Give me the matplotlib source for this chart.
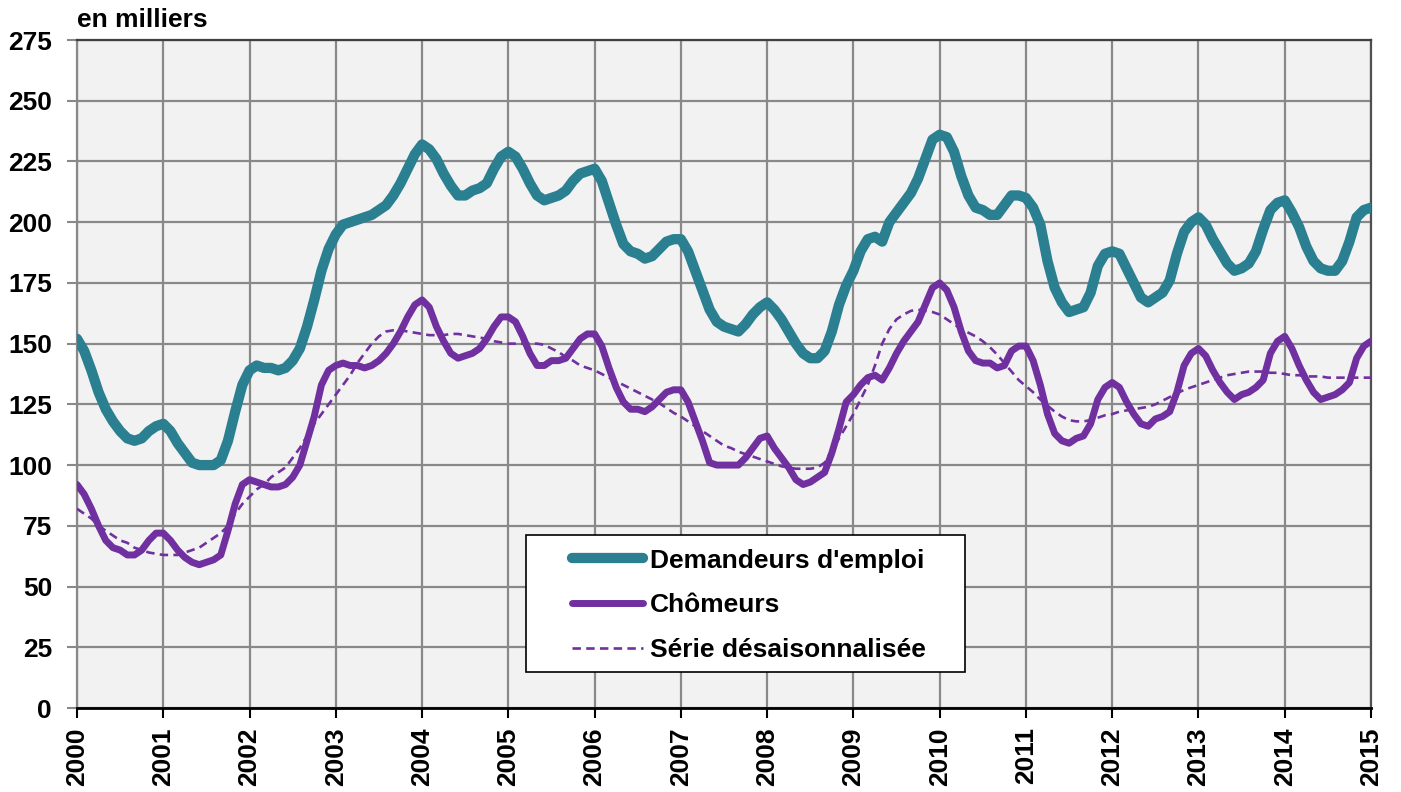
import numpy as np
import matplotlib
matplotlib.use('Agg')
import matplotlib.pyplot as plt
from matplotlib.patches import Rectangle

plt.rcParams['font.family'] = ['Liberation Sans', 'DejaVu Sans']
plt.rcParams['font.weight'] = 'bold'

# monthly values, Jan 2000 .. Jan 2015 (en milliers)
demandeurs = [
    152, 147, 139, 130, 123, 118, 114, 111, 110, 111, 114, 116,  # 2000
    117, 114, 109, 105, 101, 100, 100, 100, 102, 110, 122, 133,  # 2001
    139, 141, 140, 140, 139, 140, 143, 148, 157, 168, 180, 189,  # 2002
    195, 199, 200, 201, 202, 203, 205, 207, 211, 216, 222, 228,  # 2003
    232, 230, 226, 220, 215, 211, 211, 213, 214, 216, 222, 227,  # 2004
    229, 227, 222, 216, 211, 209, 210, 211, 213, 217, 220, 221,  # 2005
    222, 217, 208, 199, 191, 188, 187, 185, 186, 189, 192, 193,  # 2006
    193, 188, 180, 172, 164, 159, 157, 156, 155, 158, 162, 165,  # 2007
    167, 164, 160, 155, 150, 146, 144, 144, 147, 155, 166, 174,  # 2008
    180, 188, 193, 194, 192, 200, 204, 208, 212, 218, 226, 234,  # 2009
    236, 235, 229, 219, 211, 206, 205, 203, 203, 207, 211, 211,  # 2010
    210, 206, 199, 184, 173, 167, 163, 164, 165, 171, 182, 187,  # 2011
    188, 187, 181, 175, 169, 167, 169, 171, 176, 187, 196, 200,  # 2012
    202, 199, 193, 188, 183, 180, 181, 183, 188, 197, 205, 208,  # 2013
    209, 204, 198, 190, 184, 181, 180, 180, 184, 192, 202, 205,  # 2014
    206,                                                         # 2015
]

chomeurs = [
    92, 88, 82, 75, 69, 66, 65, 63, 63, 65, 69, 72,              # 2000
    72, 69, 65, 62, 60, 59, 60, 61, 63, 73, 84, 92,              # 2001
    94, 93, 92, 91, 91, 92, 95, 100, 110, 120, 133, 139,         # 2002
    141, 142, 141, 141, 140, 141, 143, 146, 150, 155, 161, 166,  # 2003
    168, 165, 157, 151, 146, 144, 145, 146, 148, 152, 157, 161,  # 2004
    161, 159, 153, 146, 141, 141, 143, 143, 144, 148, 152, 154,  # 2005
    154, 149, 140, 132, 126, 123, 123, 122, 124, 127, 130, 131,  # 2006
    131, 126, 118, 110, 101, 100, 100, 100, 100, 103, 107, 111,  # 2007
    112, 107, 103, 99, 94, 92, 93, 95, 97, 105, 115, 126,        # 2008
    129, 133, 136, 137, 135, 140, 146, 151, 155, 159, 166, 173,  # 2009
    175, 172, 165, 155, 147, 143, 142, 142, 140, 141, 147, 149,  # 2010
    149, 143, 133, 121, 113, 110, 109, 111, 112, 117, 127, 132,  # 2011
    134, 132, 126, 121, 117, 116, 119, 120, 122, 130, 141, 146,  # 2012
    148, 145, 139, 134, 130, 127, 129, 130, 132, 135, 146, 151,  # 2013
    153, 148, 141, 135, 130, 127, 128, 129, 131, 134, 144, 149,  # 2014
    151,                                                         # 2015
]

desaison = [
    82, 80, 78, 75, 73, 71, 69, 68, 66, 65, 64, 63.5,                     # 2000
    63, 63, 63, 64, 65, 66, 68, 70, 72, 75, 80, 84,                       # 2001
    87, 90, 92, 95, 97, 99, 103, 107, 112, 117, 121, 125,                 # 2002
    129, 133, 137, 142, 146, 150, 153, 155, 155.5, 155.5, 155, 154.5,     # 2003
    154, 153.5, 153.5, 153.5, 154, 154, 153.5, 153, 152.5, 152, 151, 150.5,  # 2004
    150, 150, 150, 150, 150, 149.5, 148, 146.5, 144.5, 143, 141, 140,     # 2005
    139, 137.5, 136, 134.5, 133, 131.5, 130, 128.5, 127, 125.5, 123.5, 121.5,  # 2006
    120, 118, 116, 114, 112, 110, 108, 107, 105.5, 104.5, 103.5, 102.5,   # 2007
    101.5, 100.5, 99.5, 99, 98.5, 98.5, 98.5, 99, 101, 106, 111, 116,     # 2008
    121, 127, 133, 141, 150, 156, 160, 162, 163.5, 164, 163.5, 163,       # 2009
    162, 160, 158, 156, 154.5, 153, 151, 148.5, 145.5, 142, 138.5, 135,   # 2010
    132.5, 130, 127, 124.5, 122, 120, 118.5, 118, 118, 118.5, 119.5, 120.5,  # 2011
    121, 122, 122.5, 123, 123.5, 124, 125, 126.5, 128, 129.5, 131, 132,   # 2012
    133, 134, 135, 136, 137, 137.5, 138, 138.5, 138.5, 138.5, 138, 138,   # 2013
    137.5, 137, 137, 136.5, 136.5, 136.5, 136, 136, 136, 136, 136, 136,   # 2014
    136,                                                                  # 2015
]

years = list(range(2000, 2016))
yticks = list(range(0, 276, 25))

t = 2000 + np.arange(len(demandeurs)) / 12.0

teal = '#2a7f90'
purple = '#7030a0'
fs = 19

fig = plt.figure(figsize=(14.01, 7.92), dpi=100)
ax = fig.add_axes([77 / 1401, 1 - 708 / 792, (1371 - 77) / 1401, (708 - 40) / 792])
ax.set_facecolor('#f2f2f2')

l1, = ax.plot(t, demandeurs, color=teal, lw=7.4, solid_capstyle='round',
              solid_joinstyle='round', label="Demandeurs d'emploi", zorder=4)
l2, = ax.plot(t, chomeurs, color=purple, lw=5, solid_capstyle='round',
              solid_joinstyle='round', label='Chômeurs', zorder=3)
l3, = ax.plot(t, desaison, color=purple, lw=1.9, ls=(0, (3.2, 2.0)),
              label='Série désaisonnalisée', zorder=3)

ax.set_xlim(2000, 2015)
ax.set_ylim(0, 275)
ax.set_xticks(years)
ax.set_xticklabels([str(y) for y in years], rotation=90, fontsize=fs, fontweight='bold')
ax.set_yticks(yticks)
ax.set_yticklabels([str(v) for v in yticks], fontsize=fs, fontweight='bold')
ax.grid(True, color='#898989', lw=1.6, zorder=0)
ax.set_axisbelow(True)

ax.tick_params(axis='y', length=7, width=1.5, color='#898989', pad=11)
ax.tick_params(axis='x', length=7, width=1.5, color='black', pad=7)

ax.spines['left'].set_color('#898989')
ax.spines['left'].set_linewidth(1.6)
ax.spines['bottom'].set_color('black')
ax.spines['bottom'].set_linewidth(2)
ax.spines['top'].set_color('#404040')
ax.spines['top'].set_linewidth(1.6)
ax.spines['right'].set_color('#505050')
ax.spines['right'].set_linewidth(1.6)

fig.text(77 / 1401, 1 - 20 / 792, 'en milliers', fontsize=fs, fontweight='bold',
         va='center', ha='left')

# legend box
box = Rectangle((0.347, 0.054), 0.339, 0.205, transform=ax.transAxes,
                facecolor='white', edgecolor='black', lw=1.2, zorder=5)
ax.add_patch(box)
leg = ax.legend(handles=[l1, l2, l3], loc='upper left',
                bbox_to_anchor=(0.3825, 0.2385), frameon=False,
                prop={'size': fs, 'weight': 'bold'}, handlelength=2.7,
                handletextpad=0.27, labelspacing=0.78, borderpad=0,
                borderaxespad=0)
leg.set_zorder(6)

fig.savefig('out.png', dpi=100)
